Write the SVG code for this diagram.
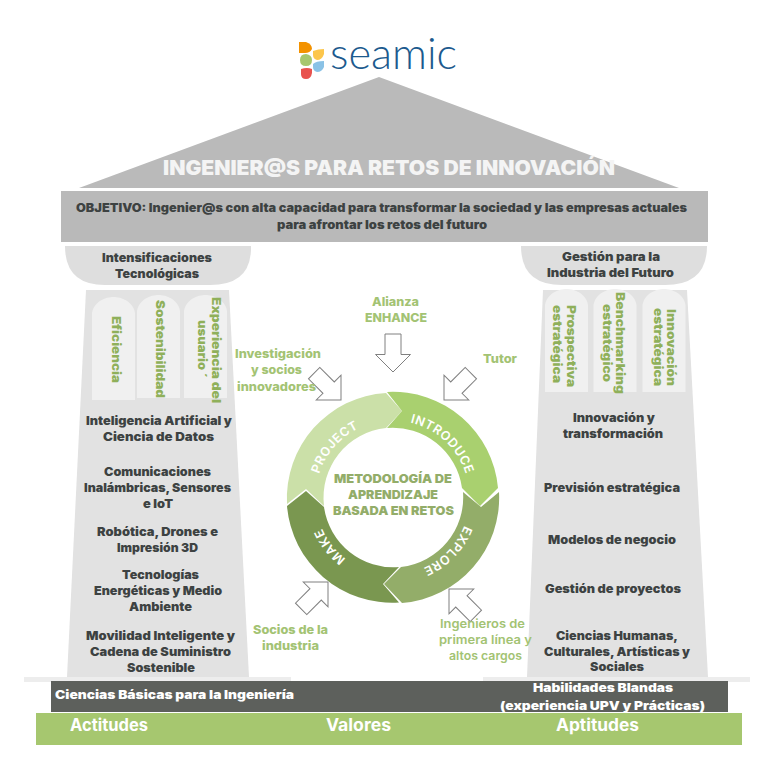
<svg xmlns="http://www.w3.org/2000/svg" width="768" height="768" viewBox="0 0 768 768">
<style>
text{font-family:"Inter","Open Sans","Liberation Sans",sans-serif;font-weight:800}
.d{font-size:12px;fill:#3d4242;font-weight:900}
.g{font-size:12px;fill:#8fb05a;font-weight:900}
.l{font-size:12px;fill:#a3c373}
.m{font-size:12px;fill:#93ad69;font-weight:900}
.w{font-size:12px;fill:#fff;font-weight:900}
.b{font-size:17px;fill:#fff;font-weight:700}
.s{font-size:12.5px;fill:#fff;font-weight:600;letter-spacing:.6px}
.col{fill:#e2e2e2}.cap{fill:#dedede}.slab{fill:#ededed}.fl{fill:#f0f0f0}
.arrow{fill:#fff;stroke:#808080;stroke-width:1}
</style>
<defs>
<path id="arr" d="M0 0L-17.500-17.500H-8V-38H8V-17.500H17.500Z"/>
<path id="flute" d="M0 103V16C2 4 14 0 21.500 0C29 0 41 4 43 16V103Z"/>
<path id="a-project" d="M316.400 509.500A77 77 0 0 1 393.800 420.500"/>
<path id="a-introduce" d="M383.100 421A77 77 0 0 1 469.400 501.500"/>
<path id="a-explore" d="M469.100 489.500A77 77 0 0 1 387.100 574.300"/>
<path id="a-make" d="M389.800 574.400A77 77 0 0 1 317.200 481.500"/>
</defs>

<g id="logo">
<path d="M299 42H306Q312 44 312 49Q310 53 305 53H299Z" fill="#f39200"/>
<path d="M313 51Q318 49 324 49V54Q322 60 317 60Q313 59 313 55Z" fill="#fcc64c"/>
<path d="M300 60Q300 54 306 54Q312 55 312 60Q312 66 306 66Q300 66 300 60Z" fill="#a6c76f"/>
<path d="M313 64Q316 61 324 61V67Q322 72 317 72Q313 71 313 67Z" fill="#8ac2e6"/>
<path d="M301 69Q307 67 312 69V73Q311 79 306 79Q301 79 301 74Z" fill="#e8534f"/>
<text x="330" y="69" textLength="127" lengthAdjust="spacingAndGlyphs" style="font-family:'Lato','Open Sans',sans-serif;font-weight:300;font-size:44px;fill:#1c5a8e">seamic</text>
</g>

<g id="roof">
<path d="M379 77L679 188H79Z" fill="#bababa"/>
<text x="163" y="175" textLength="452" lengthAdjust="spacingAndGlyphs" style="font-size:20px;fill:#f4f4f4;font-weight:900">INGENIER@S PARA RETOS DE INNOVACIÓN</text>
</g>
<g id="beam">
<rect x="61" y="191" width="647" height="51" fill="#b9b9b9"/>
<text class="d" x="76" y="212" textLength="611" lengthAdjust="spacingAndGlyphs">OBJETIVO: Ingenier@s con alta capacidad para transformar la sociedad y las empresas actuales</text>
<text class="d" x="277" y="229" textLength="210" lengthAdjust="spacingAndGlyphs">para afrontar los retos del futuro</text>
</g>

<g id="left-column">
<path class="cap" d="M65 246H251Q252 285 210 285H105Q65 285 65 246Z"/>
<path class="col" d="M86 290H229L249 677H67Z"/>
<rect class="slab" x="24" y="677" width="267" height="5"/>
<use href="#flute" x="92" y="297" class="fl"/>
<use href="#flute" x="137" y="295" class="fl"/>
<use href="#flute" x="184" y="295" class="fl"/>
<text class="d" x="102" y="262" textLength="110" lengthAdjust="spacingAndGlyphs">Intensificaciones</text>
<text class="d" x="115" y="278" textLength="84" lengthAdjust="spacingAndGlyphs">Tecnológicas</text>
<text class="g" transform="translate(112 316) rotate(90)" textLength="67" lengthAdjust="spacingAndGlyphs">Eficiencia</text>
<text class="g" transform="translate(156 300) rotate(90)" textLength="98" lengthAdjust="spacingAndGlyphs">Sostenibilidad</text>
<text class="g" transform="translate(211.500 297) rotate(90)" textLength="106" lengthAdjust="spacingAndGlyphs">Experiencia del</text>
<text class="g" transform="translate(198 320) rotate(90)" textLength="58" lengthAdjust="spacingAndGlyphs">usuario ´</text>
<text class="d" x="86" y="425" textLength="146" lengthAdjust="spacingAndGlyphs">Inteligencia Artificial y</text>
<text class="d" x="103" y="441" textLength="111" lengthAdjust="spacingAndGlyphs">Ciencia de Datos</text>
<text class="d" x="104" y="476" textLength="107" lengthAdjust="spacingAndGlyphs">Comunicaciones</text>
<text class="d" x="84" y="492" textLength="147" lengthAdjust="spacingAndGlyphs">Inalámbricas, Sensores</text>
<text class="d" x="143" y="508" textLength="30" lengthAdjust="spacingAndGlyphs">e IoT</text>
<text class="d" x="97" y="536" textLength="121" lengthAdjust="spacingAndGlyphs">Robótica, Drones e</text>
<text class="d" x="117" y="552" textLength="81" lengthAdjust="spacingAndGlyphs">Impresión 3D</text>
<text class="d" x="122" y="579" textLength="77" lengthAdjust="spacingAndGlyphs">Tecnologías</text>
<text class="d" x="94" y="595" textLength="128" lengthAdjust="spacingAndGlyphs">Energéticas y Medio</text>
<text class="d" x="129" y="611" textLength="63" lengthAdjust="spacingAndGlyphs">Ambiente</text>
<text class="d" x="86" y="640" textLength="149" lengthAdjust="spacingAndGlyphs">Movilidad Inteligente y</text>
<text class="d" x="90" y="656" textLength="141" lengthAdjust="spacingAndGlyphs">Cadena de Suministro</text>
<text class="d" x="127" y="672" textLength="68" lengthAdjust="spacingAndGlyphs">Sostenible</text>
</g>

<g id="right-column">
<path class="cap" d="M521 246H707Q707 285 665 285H562Q521 285 521 246Z"/>
<path class="col" d="M543 290H687L708 677H527Z"/>
<rect class="slab" x="483" y="677" width="267" height="5"/>
<use href="#flute" x="545" y="289" class="fl"/>
<use href="#flute" x="593.500" y="289" class="fl"/>
<use href="#flute" x="642.500" y="289" class="fl"/>
<text class="d" x="562" y="261" textLength="98" lengthAdjust="spacingAndGlyphs">Gestión para la</text>
<text class="d" x="547" y="277" textLength="127" lengthAdjust="spacingAndGlyphs">Industria del Futuro</text>
<text class="g" transform="translate(567 305) rotate(90)" textLength="82" lengthAdjust="spacingAndGlyphs">Prospectiva</text>
<text class="g" transform="translate(553 305) rotate(90)" textLength="78" lengthAdjust="spacingAndGlyphs">estratégica</text>
<text class="g" transform="translate(616 292) rotate(90)" textLength="102" lengthAdjust="spacingAndGlyphs">Benchmarking</text>
<text class="g" transform="translate(603 304) rotate(90)" textLength="78" lengthAdjust="spacingAndGlyphs">estratégico</text>
<text class="g" transform="translate(667 309) rotate(90)" textLength="77" lengthAdjust="spacingAndGlyphs">Innovación</text>
<text class="g" transform="translate(654 308) rotate(90)" textLength="78" lengthAdjust="spacingAndGlyphs">estratégica</text>
<text class="d" x="573" y="422" textLength="82" lengthAdjust="spacingAndGlyphs">Innovación y</text>
<text class="d" x="563" y="438" textLength="100" lengthAdjust="spacingAndGlyphs">transformación</text>
<text class="d" x="544" y="492" textLength="136" lengthAdjust="spacingAndGlyphs">Previsión estratégica</text>
<text class="d" x="548" y="544" textLength="128" lengthAdjust="spacingAndGlyphs">Modelos de negocio</text>
<text class="d" x="545" y="593" textLength="136" lengthAdjust="spacingAndGlyphs">Gestión de proyectos</text>
<text class="d" x="556" y="640" textLength="122" lengthAdjust="spacingAndGlyphs">Ciencias Humanas,</text>
<text class="d" x="544" y="656" textLength="146" lengthAdjust="spacingAndGlyphs">Culturales, Artísticas y</text>
<text class="d" x="590" y="671" textLength="54" lengthAdjust="spacingAndGlyphs">Sociales</text>
</g>

<g id="foundation">
<rect x="51" y="681" width="677" height="31" fill="#5d605c"/>
<rect x="36" y="713" width="706" height="32" fill="#a6c76f"/>
<text class="w" x="55" y="699" textLength="239" lengthAdjust="spacingAndGlyphs">Ciencias Básicas para la Ingeniería</text>
<text class="w" x="533" y="692" textLength="140" lengthAdjust="spacingAndGlyphs">Habilidades Blandas</text>
<text class="w" x="500" y="710" textLength="205" lengthAdjust="spacingAndGlyphs">(experiencia UPV y Prácticas)</text>
<text class="b" x="70" y="731" textLength="78" lengthAdjust="spacingAndGlyphs">Actitudes</text>
<text class="b" x="326" y="731" textLength="65" lengthAdjust="spacingAndGlyphs">Valores</text>
<text class="b" x="556" y="731" textLength="83" lengthAdjust="spacingAndGlyphs">Aptitudes</text>
</g>

<g id="cycle">
<g id="project">
<path d="M287 504A105.500 105.500 0 0 1 386 393L402 411L386 428A70 70 0 0 0 324 506L306 489Z" fill="#cbe0a8"/>
<text class="s" text-anchor="middle"><textPath href="#a-project" startOffset="50%">PROJECT</textPath></text>
</g>
<g id="introduce">
<path d="M387 392A105.500 105.500 0 0 1 498 488L480 506L462 488A70 70 0 0 0 387 428L402 411Z" fill="#a9d06f"/>
<text class="s" text-anchor="middle"><textPath href="#a-introduce" startOffset="50%">INTRODUCE</textPath></text>
</g>
<g id="explore">
<path d="M499 492A105.500 105.500 0 0 1 402 603L384 584L401 567A70 70 0 0 0 463 492L481 507Z" fill="#93ad69"/>
<text class="s" text-anchor="middle"><textPath href="#a-explore" startOffset="50%">EXPLORE</textPath></text>
</g>
<g id="make">
<path d="M399 602.500A105.500 105.500 0 0 1 287 506L306 491L324 507A70 70 0 0 0 399 567L383 584Z" fill="#7a9750"/>
<text class="s" text-anchor="middle"><textPath href="#a-make" startOffset="50%">MAKE</textPath></text>
</g>
<text class="m" x="334" y="483" textLength="118" lengthAdjust="spacingAndGlyphs">METODOLOGÍA DE</text>
<text class="m" x="348" y="499" textLength="90" lengthAdjust="spacingAndGlyphs">APRENDIZAJE</text>
<text class="m" x="333" y="515" textLength="121" lengthAdjust="spacingAndGlyphs">BASADA EN RETOS</text>
</g>

<g id="connectors">
<use href="#arr" class="arrow" transform="translate(393 372)"/>
<use href="#arr" class="arrow" transform="translate(341 400) rotate(-45)"/>
<use href="#arr" class="arrow" transform="translate(444 400) rotate(45)"/>
<use href="#arr" class="arrow" transform="translate(328 582) rotate(-135)"/>
<use href="#arr" class="arrow" transform="translate(449 589) rotate(135)"/>
</g>

<g id="actors">
<text class="l" x="372" y="306" textLength="47" lengthAdjust="spacingAndGlyphs">Alianza</text>
<text class="l" x="365" y="322" textLength="62" lengthAdjust="spacingAndGlyphs">ENHANCE</text>
<text class="l" x="235" y="358" textLength="86" lengthAdjust="spacingAndGlyphs">Investigación</text>
<text class="l" x="251" y="374" textLength="51" lengthAdjust="spacingAndGlyphs">y socios</text>
<text class="l" x="237" y="391" textLength="79" lengthAdjust="spacingAndGlyphs">innovadores</text>
<text class="l" x="483" y="363" textLength="34" lengthAdjust="spacingAndGlyphs">Tutor</text>
<text class="l" x="253" y="634" textLength="75" lengthAdjust="spacingAndGlyphs">Socios de la</text>
<text class="l" x="262" y="650" textLength="57" lengthAdjust="spacingAndGlyphs">industria</text>
<text class="l" x="440" y="628" textLength="85" lengthAdjust="spacingAndGlyphs" style="font-weight:600">Ingenieros de</text>
<text class="l" x="439" y="644" textLength="93" lengthAdjust="spacingAndGlyphs" style="font-weight:600">primera línea y</text>
<text class="l" x="449" y="660" textLength="73" lengthAdjust="spacingAndGlyphs" style="font-weight:600">altos cargos</text>
</g>
</svg>
